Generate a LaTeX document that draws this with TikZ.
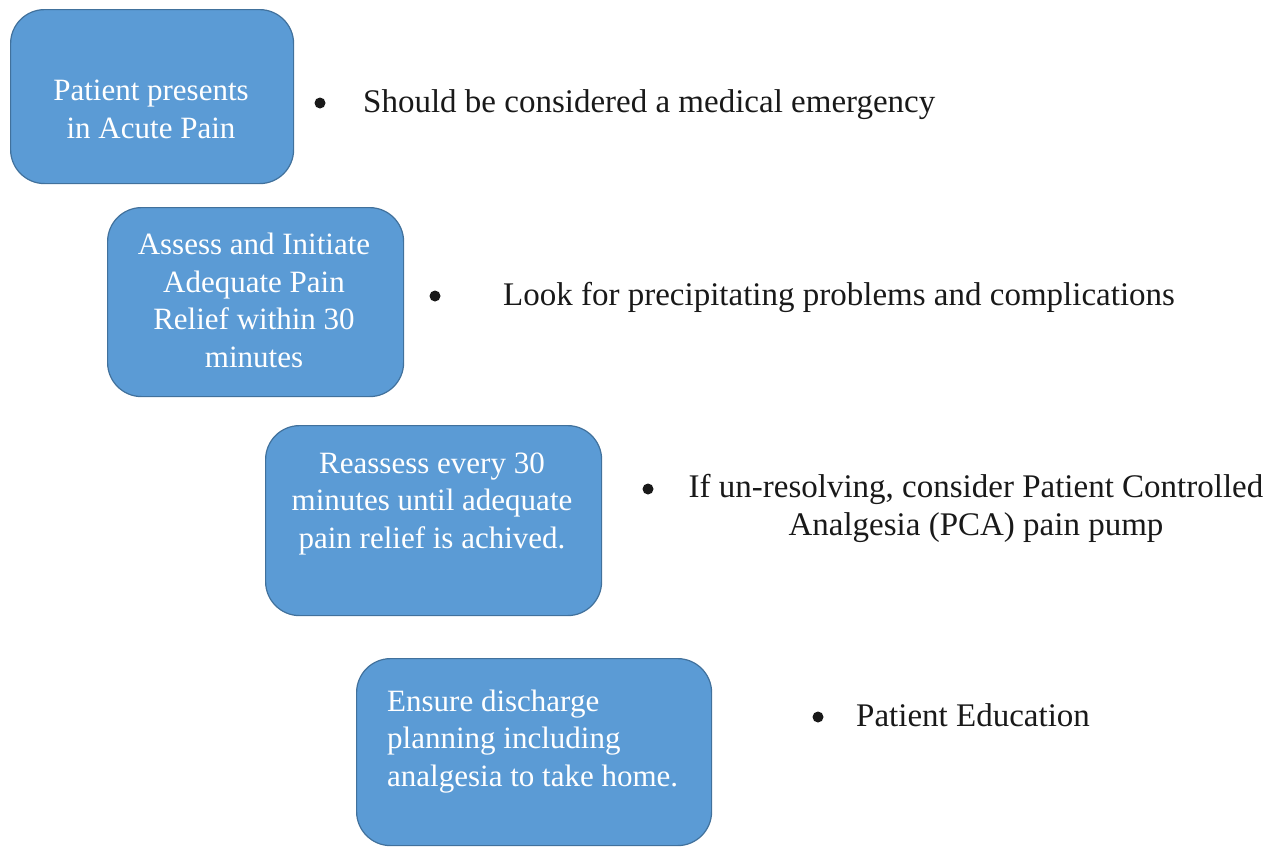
\documentclass[tikz,border=0pt]{standalone}
\usepackage{fontspec}
\setmainfont{Liberation Serif}
\usepackage{xcolor}
\usepackage{tikz}
\usetikzlibrary{positioning}

\definecolor{stepblue}{HTML}{5B9BD5}
\definecolor{stepedge}{HTML}{41719C}

\begin{document}
\begin{tikzpicture}[x=1pt,y=1pt,
  stepbox/.style={rectangle,rounded corners=34pt,fill=stepblue,draw=stepedge,line width=1.2pt,anchor=north west,inner sep=0pt},
  steptext/.style={text=white,font=\fontsize{31}{37.5}\selectfont,align=center,inner sep=0pt,anchor=base},
  dot/.style={circle,fill=black!90,inner sep=0pt,minimum size=11pt},
  note/.style={text=black!90,font=\fontsize{33}{37.5}\selectfont,align=center,inner sep=0pt,anchor=base west}]
\useasboundingbox (0,0) rectangle (1271,-846);

% the four steps (text nodes sit on their last baseline)
\node[stepbox,minimum width=283pt,minimum height=174pt] (box1) at (10,-9) {};
\node[stepbox,minimum width=296pt,minimum height=189pt] (box2) at (107,-207) {};
\node[stepbox,minimum width=336pt,minimum height=190pt] (box3) at (265,-425) {};
\node[stepbox,minimum width=355pt,minimum height=187pt] (box4) at (356,-658) {};

\node[steptext] (step1) at (151,-138) {Patient presents\\ in Acute Pain};
\node[steptext] (step2) at (254,-367) {Assess and Initiate\\Adequate Pain\\Relief within 30\\minutes};
\node[steptext] (step3) at (432,-548) {Reassess every 30\\minutes until adequate\\pain relief is achived.};
\node[steptext,align=left,anchor=base west] (step4) at (387,-786) {Ensure discharge\\planning including\\analgesia to take home.};

% bullet points beside each step
\node[dot] (b1) at (320,-103) {};
\node[note] (n1) at (363,-112) {Should be considered a medical emergency};
\node[dot] (b2) at (435,-296) {};
\node[note] (n2) at (503,-305) {Look for precipitating problems and complications};
\node[dot] (b3) at (648,-489) {};
\node[note,anchor=base] (n3) at (976,-535) {If un-resolving, consider Patient Controlled\\Analgesia (PCA) pain pump};
\node[dot] (b4) at (818,-717) {};
\node[note] (n4) at (856,-726) {Patient Education};
\end{tikzpicture}
\end{document}
